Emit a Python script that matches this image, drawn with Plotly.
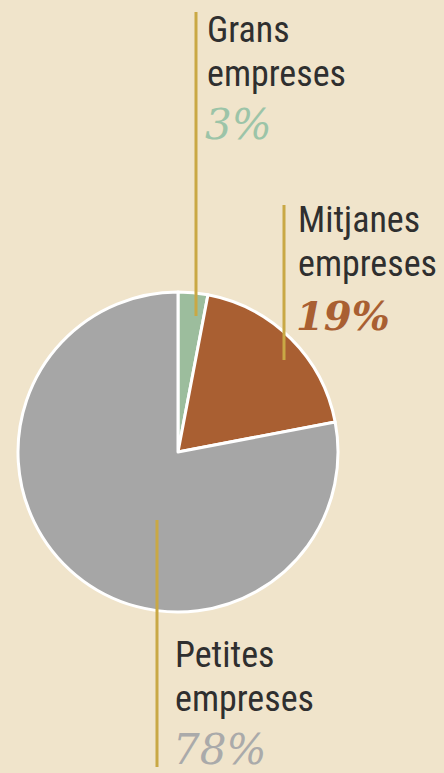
import plotly.graph_objects as go

categories = ["Grans empreses", "Mitjanes empreses", "Petites empreses"]
label_line1 = ["Grans", "Mitjanes", "Petites"]
label_line2 = ["empreses", "empreses", "empreses"]
values = [3, 19, 78]
pct_labels = ["3%", "19%", "78%"]
colors = ["#9cbd9d", "#a95f32", "#a6a6a6"]
pct_colors = ["#9cc4a8", "#a95f32", "#aaaaaa"]

W, H = 444, 773
BG = "#f0e4cb"
GOLD = "#c9a845"
TXT = "#2f2f2f"

def px(x):
    return x / W

def py(y):
    return 1 - y / H

cx, cy, r = 178, 452, 160

fig = go.Figure(go.Pie(
    labels=categories, values=values, sort=False, direction="clockwise",
    rotation=0, marker=dict(colors=colors, line=dict(color="white", width=3)),
    textinfo="none", hoverinfo="label+percent", showlegend=False,
    domain=dict(x=[px(cx - r), px(cx + r)], y=[py(cy + r), py(cy - r)]),
))

# leader lines: (x, y_top, y_bottom)
leaders = [(196, 12, 316), (284, 205, 360), (157, 520, 767)]
# text anchor (left x, baseline line1)
text_pos = [(205, 43), (296, 233), (173, 668)]

shapes = []
annots = []
for i in range(3):
    lx, t, b = leaders[i]
    shapes.append(dict(type="line", xref="paper", yref="paper",
                       x0=px(lx), x1=px(lx), y0=py(t), y1=py(b),
                       line=dict(color=GOLD, width=3), layer="above"))
    tx, base = text_pos[i]
    fs = 36
    for j, txt in enumerate([label_line1[i], label_line2[i]]):
        bl = base + j * 44
        annots.append(dict(text=txt, x=px(tx), y=py(bl - 0.36 * fs), xref="paper", yref="paper",
                           xanchor="left", yanchor="middle", showarrow=False,
                           font=dict(family="Roboto Condensed, DejaVu Sans Condensed, Roboto", size=fs, color=TXT)))
    ps = 42 if i != 1 else 40
    bl = base + 44 + 53
    annots.append(dict(text=pct_labels[i], x=px(tx - 2), y=py(bl - 0.36 * ps), xref="paper", yref="paper",
                       xanchor="left", yanchor="middle", showarrow=False,
                       font=dict(family="Georgia, DejaVu Serif, Liberation Serif", size=ps,
                                 color=pct_colors[i], style="italic",
                                 weight="bold" if i == 1 else "normal")))

fig.update_layout(width=W, height=H, margin=dict(l=0, r=0, t=0, b=0),
                  paper_bgcolor=BG, plot_bgcolor=BG, shapes=shapes, annotations=annots)
fig.write_html("out.html", config={"displayModeBar": False},
               post_script="document.body.style.margin='0';document.body.style.overflow='hidden';")
